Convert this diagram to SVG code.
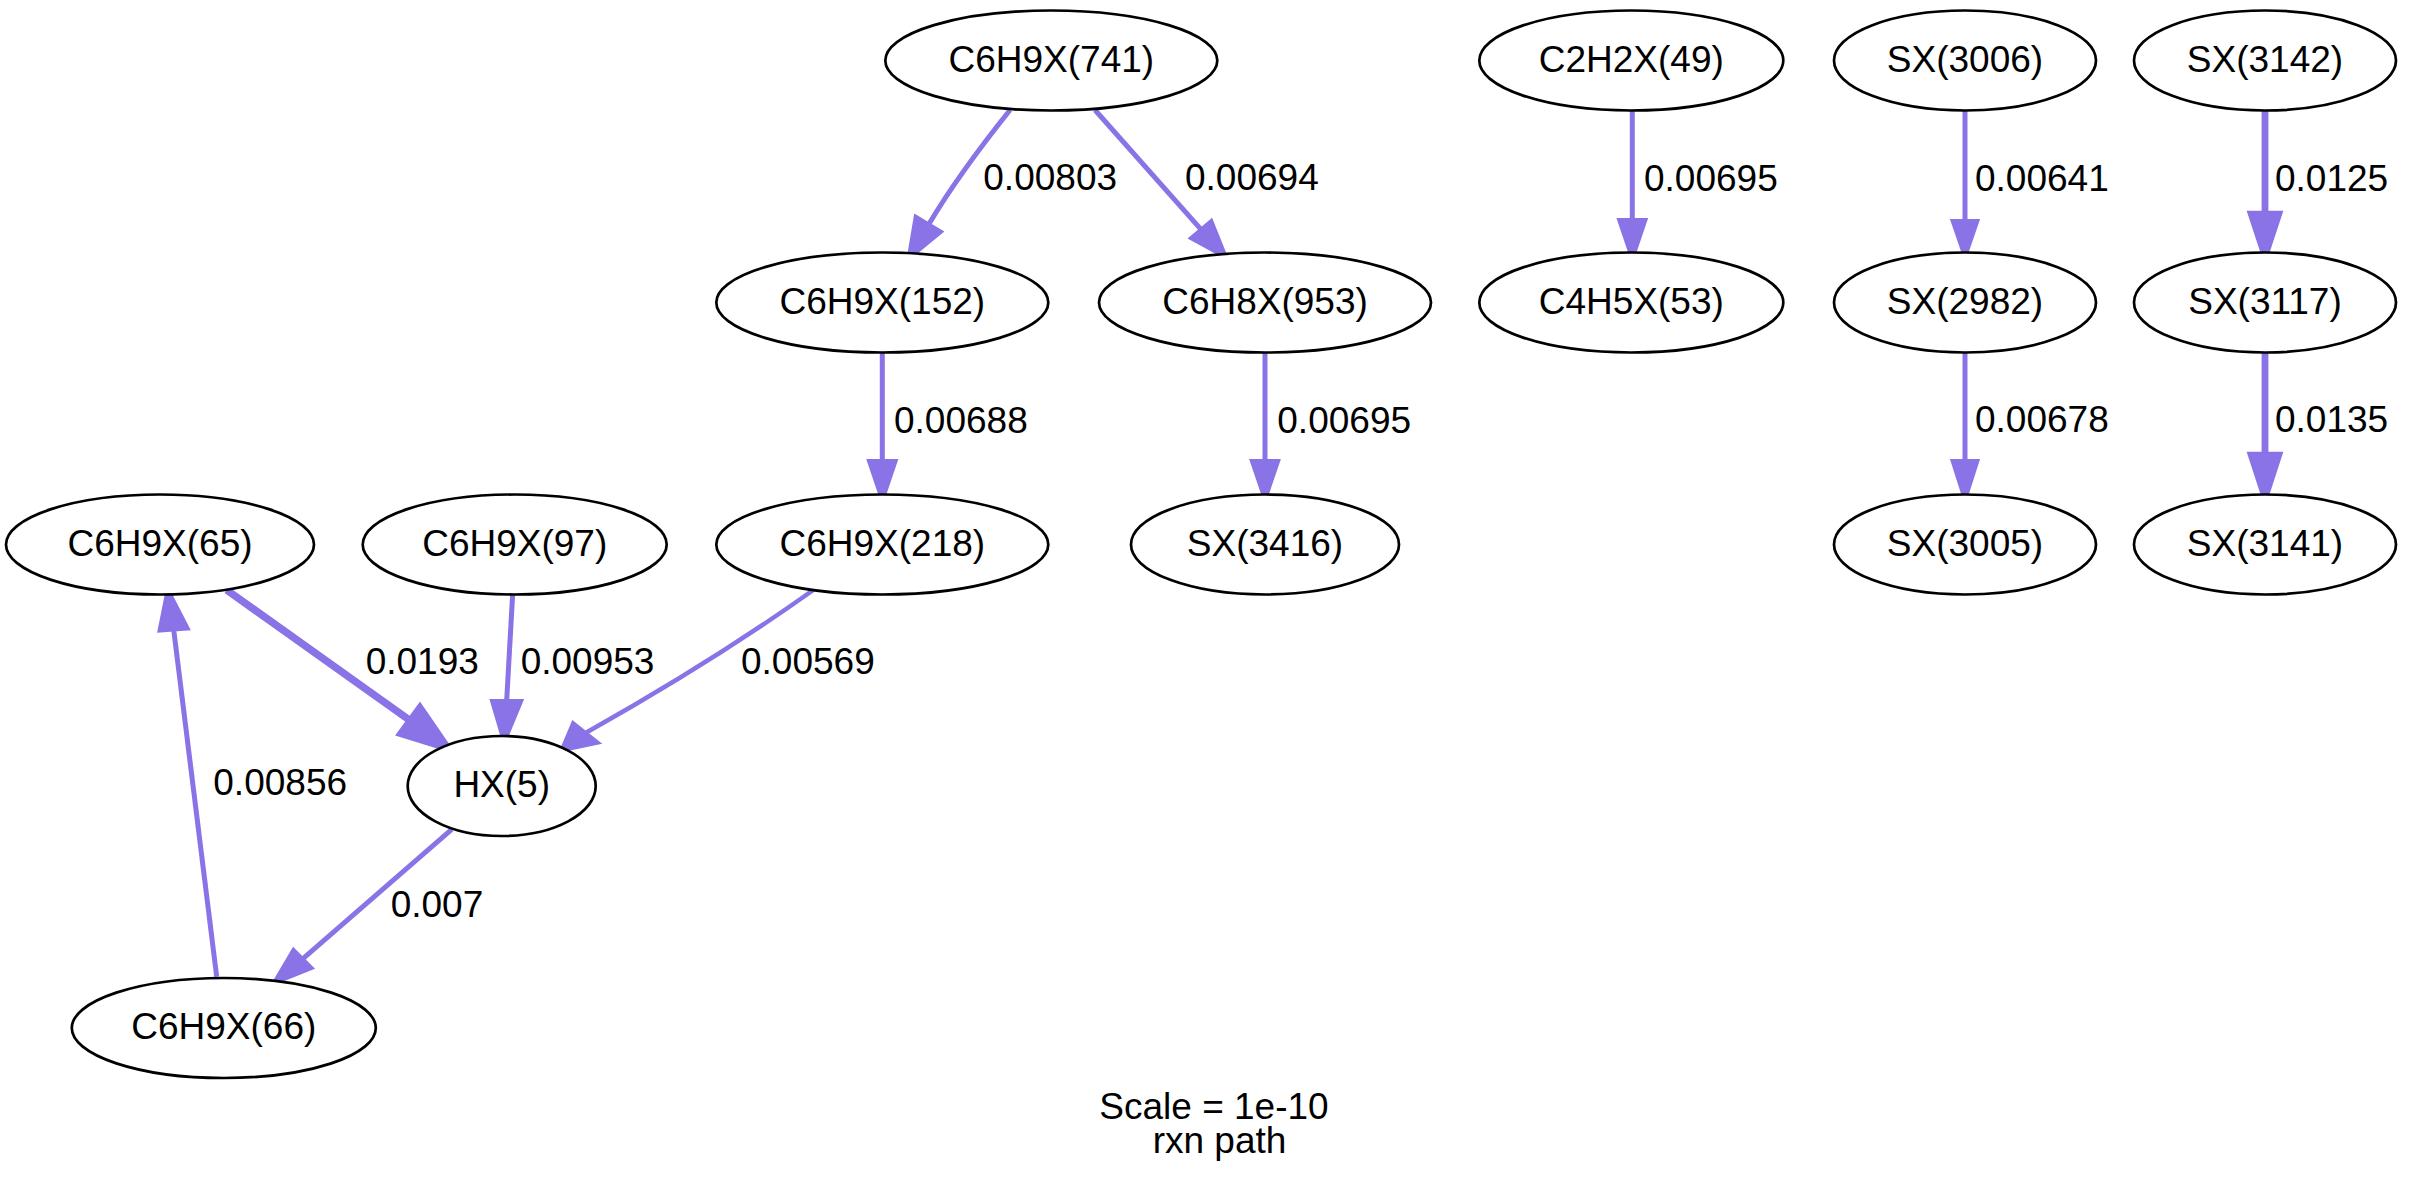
<svg xmlns="http://www.w3.org/2000/svg" width="2430" height="1194" viewBox="0 0 2430 1194">
<style>
  .node ellipse { fill: #ffffff; stroke: #000000; stroke-width: 2.7; }
  .node text { font-family: "Liberation Sans", Arial, Helvetica, sans-serif; font-size: 37px; fill: #000000; text-anchor: middle; }
  .edge path { fill: none; stroke: #8a73e6; stroke-linecap: butt; }
  .edge polygon { fill: #8a73e6; stroke: #8a73e6; stroke-width: 2; stroke-linejoin: miter; }
  .elabel { font-family: "Liberation Sans", Arial, Helvetica, sans-serif; font-size: 37px; fill: #000000; }
  .title { font-family: "Liberation Sans", Arial, Helvetica, sans-serif; font-size: 37px; fill: #000000; text-anchor: middle; }
  .w45 { stroke-width: 4.5; }
  .w5 { stroke-width: 5; }
  .w7 { stroke-width: 6.8; }
  .w75 { stroke-width: 7.5; }
</style>
<rect x="0" y="0" width="2430" height="1194" fill="#ffffff"/>

<g id="connectors">
  <g class="edge" id="e_741_152">
    <path class="w5" d="M1010,110 C990,135 955,180 929,224"/>
    <polygon points="915,215 907.3,260.7 942.7,231.7"/>
  </g>
  <g class="edge" id="e_741_953">
    <path class="w5" d="M1095,110 L1200.5,228.8"/>
    <polygon points="1189.3,238.3 1227.7,259.3 1211.7,219.3"/>
  </g>
  <g class="edge" id="e_152_218">
    <path class="w5" d="M882.3,352.5 V460"/>
    <polygon points="867.6,460 897,460 882.3,503.3"/>
  </g>
  <g class="edge" id="e_953_3416">
    <path class="w5" d="M1265,352.7 V460"/>
    <polygon points="1250.5,460 1279.5,460 1265,502.7"/>
  </g>
  <g class="edge" id="e_49_53">
    <path class="w5" d="M1632.3,110.5 V219"/>
    <polygon points="1617.8,219 1646.8,219 1632.3,261.7"/>
  </g>
  <g class="edge" id="e_3006_2982">
    <path class="w5" d="M1965,110.7 V220"/>
    <polygon points="1951.3,220 1978.7,220 1965,260"/>
  </g>
  <g class="edge" id="e_2982_3005">
    <path class="w5" d="M1965,352.7 V460"/>
    <polygon points="1951.3,460 1978.7,460 1965,503"/>
  </g>
  <g class="edge" id="e_3142_3117">
    <path class="w7" d="M2265,110.7 V212"/>
    <polygon points="2248,211.7 2282,211.7 2265,263.3"/>
  </g>
  <g class="edge" id="e_3117_3141">
    <path class="w7" d="M2265,352.7 V453"/>
    <polygon points="2248,452.7 2282,452.7 2265,505"/>
  </g>
  <g class="edge" id="e_65_5">
    <path class="w75" d="M226.7,590 L408.3,719.2"/>
    <polygon points="420,703.3 454,752.7 396.7,735"/>
  </g>
  <g class="edge" id="e_97_5">
    <path class="w5" d="M512.7,593.3 L506.7,700"/>
    <polygon points="490.7,700 504,745 522.7,700"/>
  </g>
  <g class="edge" id="e_218_5">
    <path class="w45" d="M813.3,590 C760,628 680,680 586.4,732.5"/>
    <polygon points="572.7,721.7 560,751.7 600,743.3"/>
  </g>
  <g class="edge" id="e_5_66">
    <path class="w5" d="M451.7,829.3 L303.3,958.3"/>
    <polygon points="293.3,948.3 271.7,985 313.3,968.3"/>
  </g>
  <g class="edge" id="e_66_65">
    <path class="w5" d="M216.7,976.7 L173.8,630.5"/>
    <polygon points="158.3,631.7 167.3,586.7 189.3,629.3"/>
  </g>

  <text class="elabel" x="983.3" y="190">0.00803</text>
  <text class="elabel" x="1185" y="190">0.00694</text>
  <text class="elabel" x="1644" y="191">0.00695</text>
  <text class="elabel" x="1975" y="190.7">0.00641</text>
  <text class="elabel" x="2275" y="190.7">0.0125</text>
  <text class="elabel" x="894" y="432.7">0.00688</text>
  <text class="elabel" x="1277.3" y="432.7">0.00695</text>
  <text class="elabel" x="1975" y="432.3">0.00678</text>
  <text class="elabel" x="2275" y="432.3">0.0135</text>
  <text class="elabel" x="365.7" y="674.3">0.0193</text>
  <text class="elabel" x="520.7" y="674.3">0.00953</text>
  <text class="elabel" x="741" y="674.3">0.00569</text>
  <text class="elabel" x="213.3" y="795">0.00856</text>
  <text class="elabel" x="390.7" y="916.7">0.007</text>
</g>

<g class="node" id="n_741"><ellipse cx="1051.3" cy="60.5" rx="166" ry="50"/><text x="1051.3" y="71.5">C6H9X(741)</text></g>
<g class="node" id="n_49"><ellipse cx="1631.3" cy="60.5" rx="152" ry="50"/><text x="1631.3" y="71.5">C2H2X(49)</text></g>
<g class="node" id="n_3006"><ellipse cx="1965" cy="60.5" rx="131" ry="50"/><text x="1965" y="71.5">SX(3006)</text></g>
<g class="node" id="n_3142"><ellipse cx="2265" cy="60.5" rx="131" ry="50"/><text x="2265" y="71.5">SX(3142)</text></g>

<g class="node" id="n_152"><ellipse cx="882.3" cy="302.5" rx="166" ry="50"/><text x="882.3" y="313.5">C6H9X(152)</text></g>
<g class="node" id="n_953"><ellipse cx="1265" cy="302.5" rx="166" ry="50"/><text x="1265" y="313.5">C6H8X(953)</text></g>
<g class="node" id="n_53"><ellipse cx="1631.3" cy="302.5" rx="152" ry="50"/><text x="1631.3" y="313.5">C4H5X(53)</text></g>
<g class="node" id="n_2982"><ellipse cx="1965" cy="302.5" rx="131" ry="50"/><text x="1965" y="313.5">SX(2982)</text></g>
<g class="node" id="n_3117"><ellipse cx="2265" cy="302.5" rx="131" ry="50"/><text x="2265" y="313.5">SX(3117)</text></g>

<g class="node" id="n_65"><ellipse cx="160" cy="544.5" rx="154" ry="50"/><text x="160" y="555.5">C6H9X(65)</text></g>
<g class="node" id="n_97"><ellipse cx="514.7" cy="544.5" rx="152" ry="50"/><text x="514.7" y="555.5">C6H9X(97)</text></g>
<g class="node" id="n_218"><ellipse cx="882.3" cy="544.5" rx="166" ry="50"/><text x="882.3" y="555.5">C6H9X(218)</text></g>
<g class="node" id="n_3416"><ellipse cx="1265" cy="544.5" rx="134" ry="50"/><text x="1265" y="555.5">SX(3416)</text></g>
<g class="node" id="n_3005"><ellipse cx="1965" cy="544.5" rx="131" ry="50"/><text x="1965" y="555.5">SX(3005)</text></g>
<g class="node" id="n_3141"><ellipse cx="2265" cy="544.5" rx="131" ry="50"/><text x="2265" y="555.5">SX(3141)</text></g>

<g class="node" id="n_5"><ellipse cx="501.7" cy="786" rx="94" ry="50"/><text x="501.7" y="797">HX(5)</text></g>
<g class="node" id="n_66"><ellipse cx="223.8" cy="1028" rx="152" ry="50"/><text x="223.8" y="1039">C6H9X(66)</text></g>

<g id="title">
  <text class="title" x="1214" y="1119">Scale = 1e-10</text>
  <text class="title" x="1219.5" y="1152.7">rxn path</text>
</g>
</svg>
